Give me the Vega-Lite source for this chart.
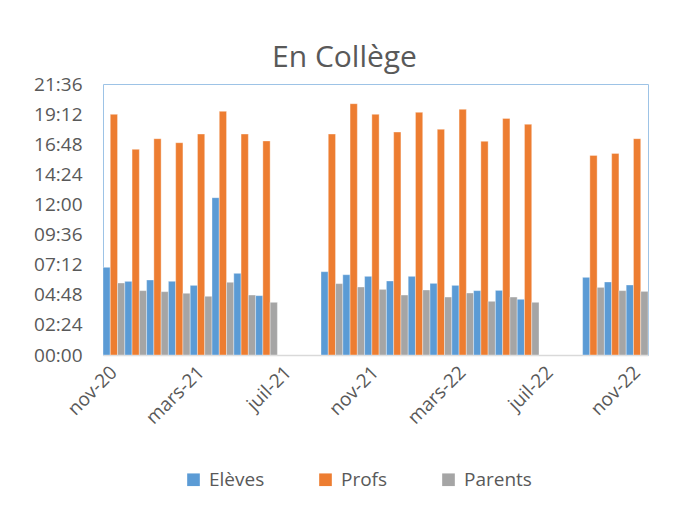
{
  "$schema": "https://vega.github.io/schema/vega-lite/v6.json",
  "width": 545,
  "height": 271,
  "autosize": {"type": "none"},
  "padding": {"left": 103, "top": 84, "right": 32, "bottom": 157},
  "background": "white",
  "title": {"text": "En Collège", "font": "Open Sans", "fontSize": 30, "fontWeight": "normal", "color": "#595959", "anchor": "middle", "dx": -31, "dy": 40, "baseline": "bottom", "offset": 12},
  "data": {"values": [
    {"mois": "nov-20", "Elèves": 6.99, "Profs": 19.18, "Parents": 5.74},
    {"mois": "déc-20", "Elèves": 5.87, "Profs": 16.39, "Parents": 5.13},
    {"mois": "janv-21", "Elèves": 5.98, "Profs": 17.24, "Parents": 5.05},
    {"mois": "févr-21", "Elèves": 5.87, "Profs": 16.92, "Parents": 4.92},
    {"mois": "mars-21", "Elèves": 5.55, "Profs": 17.61, "Parents": 4.68},
    {"mois": "avr-21", "Elèves": 12.54, "Profs": 19.42, "Parents": 5.79},
    {"mois": "mai-21", "Elèves": 6.51, "Profs": 17.61, "Parents": 4.78},
    {"mois": "juin-21", "Elèves": 4.73, "Profs": 17.06, "Parents": 4.2},
    {"mois": "sept-21", "Elèves": 6.64, "Profs": 17.61, "Parents": 5.69},
    {"mois": "oct-21", "Elèves": 6.4, "Profs": 20.03, "Parents": 5.42},
    {"mois": "nov-21", "Elèves": 6.27, "Profs": 19.18, "Parents": 5.23},
    {"mois": "déc-21", "Elèves": 5.9, "Profs": 17.77, "Parents": 4.78},
    {"mois": "janv-22", "Elèves": 6.27, "Profs": 19.34, "Parents": 5.18},
    {"mois": "févr-22", "Elèves": 5.71, "Profs": 17.99, "Parents": 4.62},
    {"mois": "mars-22", "Elèves": 5.55, "Profs": 19.58, "Parents": 4.94},
    {"mois": "avr-22", "Elèves": 5.13, "Profs": 17.03, "Parents": 4.28},
    {"mois": "mai-22", "Elèves": 5.15, "Profs": 18.86, "Parents": 4.62},
    {"mois": "juin-22", "Elèves": 4.44, "Profs": 18.39, "Parents": 4.2},
    {"mois": "sept-22", "Elèves": 6.19, "Profs": 15.91, "Parents": 5.39},
    {"mois": "oct-22", "Elèves": 5.82, "Profs": 16.07, "Parents": 5.13},
    {"mois": "nov-22", "Elèves": 5.58, "Profs": 17.24, "Parents": 5.07}
  ]},
  "transform": [{"fold": ["Elèves", "Profs", "Parents"], "as": ["serie", "heures"]}],
  "mark": {"type": "bar", "stroke": "white", "strokeWidth": 0.6, "strokeOpacity": 0.6},
  "encoding": {
    "x": {
      "field": "mois", "type": "nominal",
      "scale": {"domain": ["nov-20","déc-20","janv-21","févr-21","mars-21","avr-21","mai-21","juin-21","juil-21","août-21","sept-21","oct-21","nov-21","déc-21","janv-22","févr-22","mars-22","avr-22","mai-22","juin-22","juil-22","août-22","sept-22","oct-22","nov-22"], "paddingInner": 0, "paddingOuter": 0},
      "axis": {"values": ["nov-20","mars-21","juil-21","nov-21","mars-22","juil-22","nov-22"], "title": null, "labelAngle": -45, "labelAlign": "right", "labelBaseline": "middle", "labelPadding": 14, "ticks": false, "domainColor": "#D9D9D9", "domainWidth": 1.5, "labelFont": "Open Sans", "labelFontSize": 19, "labelColor": "#595959"}
    },
    "xOffset": {"field": "serie", "type": "nominal", "scale": {"domain": ["Elèves", "Profs", "Parents"], "paddingInner": 0, "paddingOuter": 0}},
    "y": {
      "field": "heures", "type": "quantitative",
      "scale": {"domain": [0, 21.6], "nice": false},
      "axis": {"values": [0, 2.4, 4.8, 7.2, 9.6, 12, 14.4, 16.8, 19.2, 21.6], "labelExpr": "utcFormat(datum.value*3600000, '%H:%M')", "title": null, "grid": false, "domain": false, "ticks": false, "labelPadding": 21, "labelFont": "Open Sans", "labelFontSize": 19, "labelColor": "#595959"}
    },
    "color": {
      "field": "serie", "type": "nominal",
      "scale": {"domain": ["Elèves", "Profs", "Parents"], "range": ["#5B9BD5", "#ED7D31", "#A5A5A5"]},
      "legend": {"title": null, "orient": "none", "legendX": 81, "legendY": 386, "direction": "horizontal", "columnPadding": 51, "symbolType": "square", "symbolSize": 160, "symbolStrokeWidth": 0, "labelOffset": 6, "labelFont": "Open Sans", "labelFontSize": 19, "labelColor": "#595959"}
    }
  },
  "config": {"view": {"stroke": "#9DC3E6", "strokeWidth": 1}}
}
